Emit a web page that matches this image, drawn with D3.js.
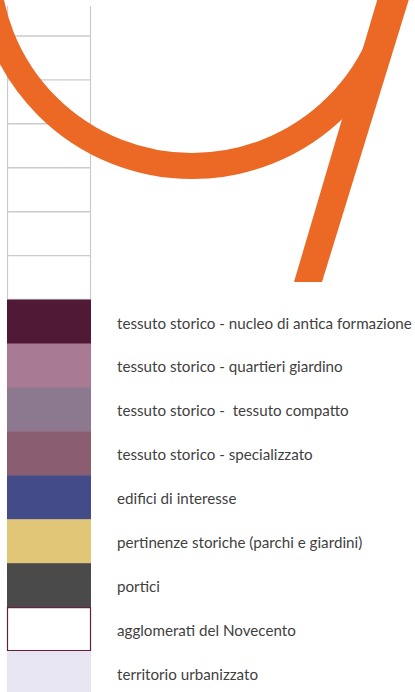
<!DOCTYPE html>
<html>
<head>
<meta charset="utf-8">
<script src="https://cdn.jsdelivr.net/npm/d3@7/dist/d3.min.js"></script>
<style>
  html, body { margin: 0; padding: 0; background: #ffffff; }
  svg { display: block; }
</style>
</head>
<body>
<svg id="chart" width="415" height="692"></svg>
<script>
// ---- data ----
const blankRows = 7;
const categories = [
  "tessuto storico - nucleo di antica formazione",
  "tessuto storico - quartieri giardino",
  "tessuto storico -  tessuto compatto",
  "tessuto storico - specializzato",
  "edifici di interesse",
  "pertinenze storiche (parchi e giardini)",
  "portici",
  "agglomerati del Novecento",
  "territorio urbanizzato"
];
const swatchColors = [
  "#501a37", "#a97a93", "#8c7990", "#8b5d70", "#444b89",
  "#e2c678", "#4a4a4a", "#ffffff", "#e7e5f1"
];
const outlined = [false, false, false, false, false, false, false, true, false];

// ---- layout ----
const W = 415, H = 692;
const svg = d3.select("#chart");
const rows = d3.range(blankRows + categories.length);
const y = d3.scaleBand().domain(rows).range([-8, 695]).paddingInner(0).paddingOuter(0);
const x0 = 7, sw = 84;
const step = y.step();

// blank upper rows (white boxes with grey rules)
const blank = rows.slice(0, blankRows);
const gridCol = "#cbcbcb";
svg.append("g").selectAll("line.h").data(blank).join("line")
  .attr("x1", x0).attr("x2", x0 + sw)
  .attr("y1", d => y(d) + step).attr("y2", d => y(d) + step)
  .attr("stroke", gridCol).attr("stroke-width", 1.4);
const topY = 6;
[x0 + 0.5, x0 + sw - 0.5].forEach(xx => {
  svg.append("line")
    .attr("x1", xx).attr("x2", xx)
    .attr("y1", topY).attr("y2", y(blankRows))
    .attr("stroke", gridCol).attr("stroke-width", 1.2);
});

// coloured swatches
const items = categories.map((c, i) => ({ label: c, color: swatchColors[i], outline: outlined[i], row: blankRows + i }));
const g = svg.append("g");
g.selectAll("rect.sw").data(items).join("rect")
  .attr("class", "sw")
  .attr("x", d => d.outline ? x0 + 0.5 : x0)
  .attr("y", d => d.outline ? y(d.row) + 0.5 : y(d.row))
  .attr("width", d => d.outline ? sw - 1 : sw)
  .attr("height", d => d.outline ? step - 1 : step + 0.5)
  .attr("fill", d => d.color)
  .attr("stroke", d => d.outline ? "#5e2240" : "none")
  .attr("stroke-width", 1.2);

// labels
const labels = g.selectAll("text.lb").data(items).join("text")
  .attr("class", "lb")
  .attr("x", 117)
  .attr("y", d => y(d.row) + step / 2 + 7)
  .attr("font-family", "Lato, 'Open Sans', sans-serif")
  .attr("font-size", 14)
  .attr("fill", "#3f3f3f")
  .style("white-space", "pre")
  .text(d => d.label);
// fit the longest label to its width in the reference
const longest = d3.max(labels.nodes(), n => n.getComputedTextLength());
const fs = 14 * 295 / longest;
labels.attr("font-size", fs);

// orange ring with tail
const orange = "#eb6825";
svg.append("circle")
  .attr("cx", 192).attr("cy", -39).attr("r", 205)
  .attr("fill", "none").attr("stroke", orange).attr("stroke-width", 26);
const tail = [[389, -40], [421, -40], [322, 282], [294, 282]];
svg.append("path")
  .attr("d", d3.line()(tail) + "Z")
  .attr("fill", orange);
</script>
</body>
</html>
